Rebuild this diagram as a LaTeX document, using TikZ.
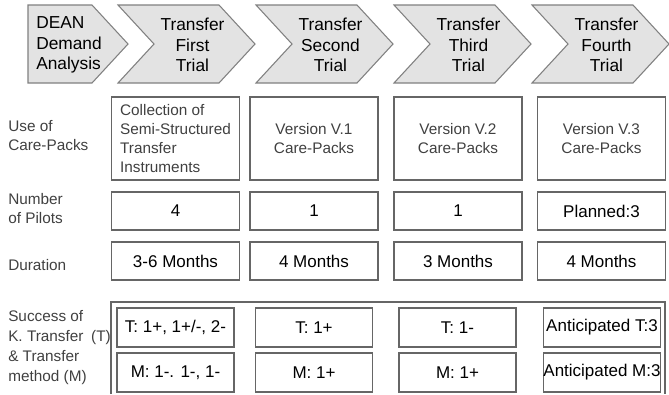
\documentclass[tikz,border=0pt]{standalone}
\usepackage{fontspec}
\setmainfont{Liberation Sans}
\usetikzlibrary{positioning}

\begin{document}
\begin{tikzpicture}[x=0.75pt, y=-0.75pt, font=\fontsize{11.5}{14.25}\selectfont]

    % Styles for the phase arrows, row labels and table cells
    \tikzset{
        phase/.style={draw=black!50, fill=black!11, line width=0.8pt, line join=miter},
        phasetext/.style={font=\fontsize{13}{15.5}\selectfont, align=center, inner sep=0pt},
        rowlabel/.style={anchor=west, align=left, inner sep=0pt, text=black!75},
        frame/.style={draw=black!60, line width=0.8pt},
        cell/.style={frame, inner sep=0pt, minimum width=96pt},
        thincell/.style={cell, text=black!75, align=center, minimum height=62.25pt},
        valcell/.style={cell, font=\fontsize{12.75}{15}\selectfont, minimum height=28.5pt},
        scorecell/.style={frame, inner sep=0pt, font=\fontsize{12.75}{15}\selectfont,
            minimum width=87.75pt, minimum height=29.25pt}
    }

    \useasboundingbox (0,0) rectangle (669,394);

    % ==========================================
    % Phase arrows
    % ==========================================
    \draw[phase] (28,5) -- (92,5) -- (128,44) -- (92,83) -- (28,83) -- cycle;
    \node[phasetext, align=left, anchor=west] (dean) at (36,45) {DEAN\\Demand\\Analysis};

    \foreach \L/\name/\txt in {118/trial1/First, 256/trial2/Second, 394/trial3/Third, 532/trial4/Fourth}{
        \draw[phase] (\L,5) -- ++(101,0) -- ++(36,39) -- ++(-36,39) -- ++(-101,0) -- ++(36,-39) -- cycle;
        \node[phasetext] (\name) at (\L+74.5,45) {Transfer\\\txt\\Trial};
    }

    % ==========================================
    % Row labels
    % ==========================================
    \node[rowlabel] (lbluse) at (8,136) {Use of\\Care-Packs};
    \node[rowlabel] (lblpil) at (8,209) {Number\\of Pilots};
    \node[rowlabel] (lbldur) at (8,265) {Duration};
    \node[rowlabel, font=\fontsize{11.5}{15}\selectfont] (lblsucc) at (8,348)
        {Success of\\K. Transfer\enspace(T)\\\& Transfer\\method (M)};

    % ==========================================
    % Care-Packs, pilots and duration
    % ==========================================
    \node[thincell, align=left] (use1) at (175.5,138.5) {Collection of\\Semi-Structured\\Transfer\\Instruments};
    \foreach \x/\i/\v in {314/2/1, 458/3/2, 601.5/4/3}
        \node[thincell] (use\i) at (\x,138.5) {Version V.\v\\Care-Packs};

    \foreach \x/\i/\v in {175.5/1/4, 314/2/1, 458/3/1, 601.5/4/Planned:3}
        \node[valcell] (pil\i) at (\x,211) {\v};

    \foreach \x/\i/\v in {175.5/1/3-6 Months, 314/2/4 Months, 458/3/3 Months, 601.5/4/4 Months}
        \node[valcell] (dur\i) at (\x,261) {\v};

    % ==========================================
    % Success of transfer (T) and method (M)
    % ==========================================
    \draw[frame] (111,394) -- (111,302) -- (665,302) -- (665,394);

    \node[scorecell] (succT1) at (175.5,327.5) {T: 1+, 1+/-, 2-};
    \node[scorecell] (succT2) at (314,327.5) {T: 1+};
    \node[scorecell] (succT3) at (457.5,327.5) {T: 1-};
    \node[scorecell] (succT4) at (602,327.5) {Anticipated T:3};

    \node[scorecell] (succM1) at (175.5,372.5) {M: 1-. 1-, 1-};
    \node[scorecell] (succM2) at (314,372.5) {M: 1+};
    \node[scorecell] (succM3) at (457.5,372.5) {M: 1+};
    \node[scorecell] (succM4) at (602,372.5) {Anticipated M:3};

\end{tikzpicture}
\end{document}
